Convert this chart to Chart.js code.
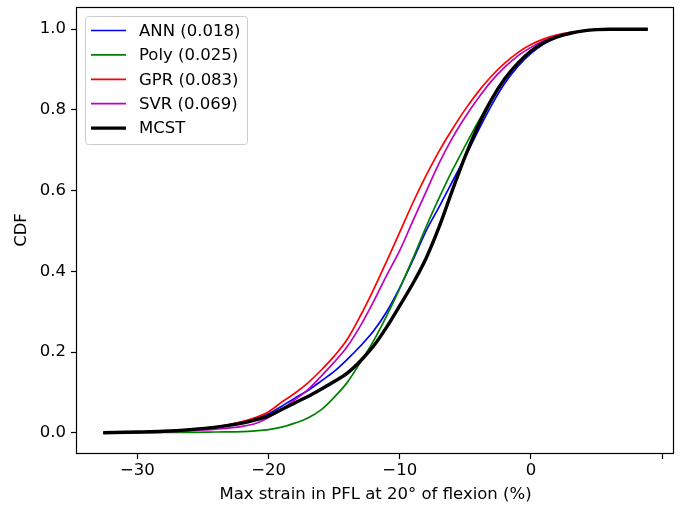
<!DOCTYPE html>
<html><head><meta charset="utf-8">
<script src="https://cdn.jsdelivr.net/npm/chart.js@4/dist/chart.umd.min.js"></script>
<style>html,body{margin:0;padding:0;background:#fff;}#wrap{width:680px;height:507px;}</style>
</head><body><div id="wrap"><canvas id="c" width="680" height="507"></canvas></div>
<script>
const strainX = [-32.6,-30,-28,-26,-24,-22,-21,-20,-19,-18,-17,-16,-15,-14,-13,-12,-11,-10,-9,-8,-7,-6,-5,-4,-3,-2,-1,0,1,2,3,4,5,6,7,8,8.9];
const annCdf  = [0,0.002,0.004,0.008,0.015,0.027,0.036,0.047,0.066,0.086,0.105,0.128,0.152,0.182,0.215,0.252,0.300,0.360,0.428,0.500,0.560,0.622,0.684,0.750,0.812,0.866,0.908,0.940,0.964,0.980,0.990,0.996,0.999,1,1,1,1];
const polyCdf = [0,0,0.001,0.001,0.002,0.003,0.005,0.008,0.014,0.024,0.037,0.057,0.088,0.125,0.175,0.228,0.290,0.358,0.432,0.510,0.582,0.650,0.712,0.772,0.828,0.876,0.916,0.946,0.967,0.981,0.990,0.996,0.999,1,1,1,1];
const gprCdf  = [0,0.002,0.004,0.008,0.014,0.028,0.038,0.052,0.076,0.098,0.124,0.155,0.190,0.232,0.290,0.355,0.425,0.497,0.570,0.637,0.698,0.752,0.802,0.846,0.884,0.916,0.942,0.962,0.976,0.986,0.992,0.996,0.999,1,1,1,1];
const svrCdf  = [0,0.001,0.003,0.005,0.009,0.016,0.023,0.038,0.058,0.082,0.107,0.140,0.175,0.214,0.265,0.325,0.390,0.452,0.525,0.597,0.668,0.730,0.783,0.830,0.872,0.906,0.934,0.955,0.972,0.984,0.991,0.996,0.999,1,1,1,1];
const mcstCdf = [0,0.002,0.004,0.008,0.014,0.024,0.032,0.042,0.058,0.074,0.090,0.108,0.127,0.148,0.178,0.215,0.262,0.315,0.370,0.432,0.510,0.600,0.686,0.762,0.826,0.877,0.916,0.946,0.967,0.981,0.990,0.996,0.999,1,1,1,1];
const seriesLabels = ['ANN (0.018)','Poly (0.025)','GPR (0.083)','SVR (0.069)','MCST'];
const xTicks = [-30,-20,-10,0,10];
const yTicks = [0,0.2,0.4,0.6,0.8,1.0];
const xTitle = 'Max strain in PFL at 20° of flexion (%)';
const yTitle = 'CDF';

const FONT = 'DejaVu Sans';
const FS = 16.5;
const colors = ['#0000ff','#008000','#ff0000','#bf00bf','#000000'];
const widths = [1.7,1.7,1.7,1.7,3.4];
const allCdf = [annCdf, polyCdf, gprCdf, svrCdf, mcstCdf];

const datasets = allCdf.map((arr,i)=>({
  label: seriesLabels[i],
  data: strainX.map((x,j)=>({x:x,y:arr[j]})),
  borderColor: colors[i],
  backgroundColor: colors[i],
  borderWidth: widths[i],
  pointRadius: 0,
  fill: false,
  cubicInterpolationMode: 'monotone',
  order: 4 - i
}));

const framePlugin = {
  id:'frame',
  afterDraw(chart){
    const ctx = chart.ctx, ca = chart.chartArea;
    ctx.save();
    ctx.strokeStyle = '#000';
    ctx.lineWidth = 1.2;
    const l = Math.round(ca.left)-0.5, t = Math.round(ca.top)+0.5, r = Math.round(ca.right)-0.5, b = Math.round(ca.bottom)+0.5;
    ctx.strokeRect(l, t, r-l, b-t);
    // legend
    const bx = 85.5, by = 16.5, bw = 162, bh = 128;
    ctx.beginPath();
    ctx.roundRect(bx, by, bw, bh, 3);
    ctx.fillStyle = 'rgba(255,255,255,0.8)';
    ctx.fill();
    ctx.lineWidth = 1;
    ctx.strokeStyle = '#cccccc';
    ctx.stroke();
    ctx.font = FS + 'px "' + FONT + '"';
    ctx.textBaseline = 'middle';
    ctx.textAlign = 'left';
    chart.data.datasets.forEach((ds,i)=>{
      const yy = 30.5 + i*24.4;
      ctx.beginPath();
      ctx.strokeStyle = ds.borderColor;
      ctx.lineWidth = ds.borderWidth;
      ctx.moveTo(91, yy); ctx.lineTo(126, yy);
      ctx.stroke();
      ctx.fillStyle = '#000';
      ctx.fillText(ds.label, 139, yy + 1);
    });
    ctx.restore();
  }
};

new Chart(document.getElementById('c'), {
  type: 'line',
  data: { datasets },
  options: {
    responsive: false,
    animation: false,
    devicePixelRatio: 1,
    layout: { padding: { top: 7, right: 6, left: 0, bottom: 0 } },
    plugins: { legend: { display: false }, tooltip: { enabled: false } },
    scales: {
      x: {
        type: 'linear', min: -34.6, max: 10.9,
        afterBuildTicks: s => { s.ticks = xTicks.map(v=>({value:v})); },
        afterFit: s => { s.height = 54; s.paddingLeft = 0; s.paddingRight = 0; },
        ticks: { autoSkip:false, maxRotation:0, color:'#000', padding:2,
          font:{family:FONT,size:FS},
          callback: v => v===10 ? '' : String(v).replace('-','\u2212') },
        grid: { drawOnChartArea:false, drawTicks:true, tickLength:6, tickColor:'#000', tickWidth:1.2 },
        border: { display:false },
        title: { display:true, text:xTitle, color:'#000', font:{family:FONT,size:FS}, padding:{top:0,bottom:2} }
      },
      y: {
        type: 'linear', min: -0.05, max: 1.055,
        afterBuildTicks: s => { s.ticks = yTicks.map(v=>({value:v})); },
        afterFit: s => { s.width = 77; s.paddingTop = 0; s.paddingBottom = 0; },
        ticks: { autoSkip:false, color:'#000', padding:5, font:{family:FONT,size:FS},
          callback: v => v.toFixed(1) },
        grid: { drawOnChartArea:false, drawTicks:true, tickLength:6, tickColor:'#000', tickWidth:1.2 },
        border: { display:false },
        title: { display:true, text:yTitle, color:'#000', font:{family:FONT,size:FS}, padding:{top:12,bottom:0} }
      }
    }
  },
  plugins: [framePlugin]
});
</script></body></html>
